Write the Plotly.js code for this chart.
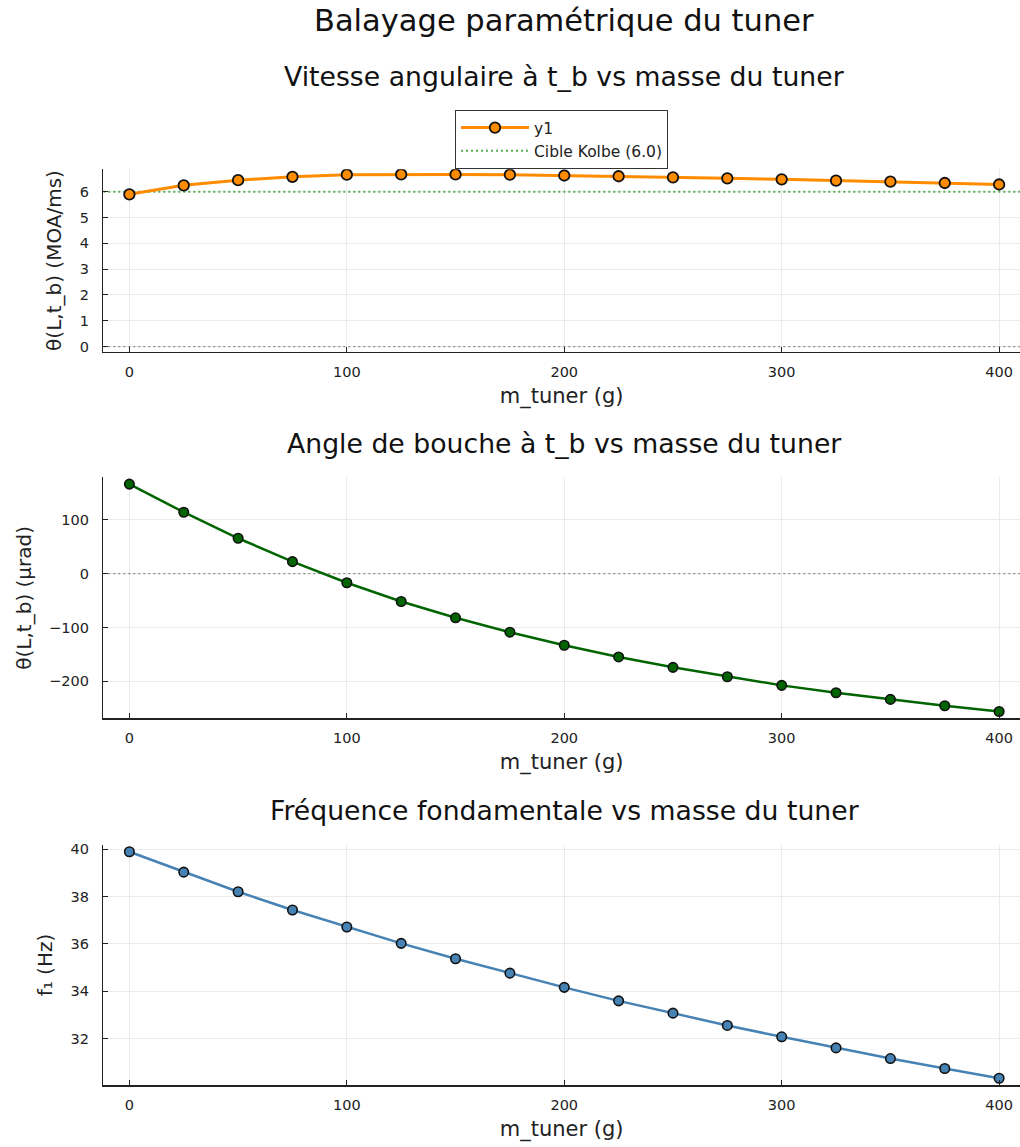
<!DOCTYPE html>
<html>
<head>
<meta charset="utf-8">
<script src="https://cdn.plot.ly/plotly-3.0.1.min.js"></script>
<style>html,body{margin:0;padding:0;background:#fff;}#chart{width:1020px;height:1147px;}</style>
</head>
<body>
<div id="chart"></div>
<script>
// ---- data ----
const masses = [0, 25, 50, 75, 100, 125, 150, 175, 200, 225, 250, 275, 300, 325, 350, 375, 400];
const omegaTb = [5.90, 6.25, 6.45, 6.58, 6.66, 6.67, 6.67, 6.66, 6.63, 6.60, 6.56, 6.52, 6.48, 6.43, 6.39, 6.34, 6.28];
const thetaTb = [166.4, 114.2, 65.8, 22.4, -16.8, -51.6, -82.0, -108.7, -133.0, -154.7, -174.0, -191.4, -207.5, -221.2, -233.6, -245.4, -256.0];
const freqF1 = [39.89, 39.03, 38.20, 37.43, 36.71, 36.02, 35.37, 34.76, 34.16, 33.59, 33.07, 32.55, 32.07, 31.60, 31.15, 30.73, 30.32];
const kolbeTarget = 6.0;
const zeroRef = 0;
const seriesName = "y1";
const targetName = "Cible Kolbe (6.0)";
const mainTitle = "Balayage paramétrique du tuner";
const subTitles = ["Vitesse angulaire à t_b vs masse du tuner", "Angle de bouche à t_b vs masse du tuner", "Fréquence fondamentale vs masse du tuner"];
const xLabel = "m_tuner (g)";
const yLabels = ["θ(L,t_b) (MOA/ms)", "θ(L,t_b) (µrad)", "f₁ (Hz)"];

// ---- helpers ----
function padRange(vals) {
  const lo = Math.min(...vals), hi = Math.max(...vals);
  const p = (hi - lo) * 0.03;
  return [lo - p, hi + p];
}
const FONT = "DejaVu Sans, Liberation Sans, sans-serif";
const xPad = (masses[masses.length - 1] - masses[0]) * 0.03;
const xRange = [masses[0] - xPad, 409.6];

const H = 1147;
const domTop = [1 - 351.7 / H, 1 - 169.3 / H];
const domMid = [1 - 718.3 / H, 1 - 477.3 / H];
const domBot = [1 - 1085 / H, 1 - 845 / H];
const xDom = [103.3 / 1020, 1];

function xAxis(anchor) {
  return {
    domain: xDom, anchor: anchor, range: xRange, tickmode: "linear", tick0: 0, dtick: 100,
    showline: true, linecolor: "#222", linewidth: 1.5, mirror: false,
    ticks: "inside", ticklen: 5, tickwidth: 1, tickcolor: "#222",
    showgrid: true, gridcolor: "#ebebeb", gridwidth: 1, zeroline: false,
    tickfont: {family: FONT, size: 14.5, color: "#222"}, ticklabelstandoff: 6,
    title: {text: xLabel, font: {family: FONT, size: 21, color: "#222"}, standoff: 9}
  };
}
function yAxis(anchor, domain, range, dtick, label) {
  return {
    domain: domain, anchor: anchor, range: range, tickmode: "linear", tick0: 0, dtick: dtick,
    showline: true, linecolor: "#222", linewidth: 1.5, mirror: false,
    ticks: "inside", ticklen: 5, tickwidth: 1, tickcolor: "#222",
    showgrid: true, gridcolor: "#ebebeb", gridwidth: 1, zeroline: false,
    tickfont: {family: FONT, size: 14.5, color: "#222"}, ticklabelstandoff: 10,
    title: {text: label, font: {family: FONT, size: 20, color: "#222"}, standoff: 12}
  };
}

// reference lines span the full axis range (drawn first so data sits on top)
function refLine(xa, ya, yv, color, width, name, show) {
  return {x: xRange, y: [yv, yv], xaxis: xa, yaxis: ya, type: "scatter", mode: "lines",
          name: name || "", showlegend: !!show, legendrank: 2, hoverinfo: "skip",
          line: {color: color, width: width, dash: "2px,3px"}};
}

const traces = [
  refLine("x", "y", zeroRef, "#8a8a8a", 1.2),
  refLine("x", "y", kolbeTarget, "#55b055", 2, targetName, true),
  refLine("x2", "y2", zeroRef, "#8a8a8a", 1.2),
  {x: masses, y: omegaTb, xaxis: "x", yaxis: "y", type: "scatter", mode: "lines+markers", name: seriesName, legendrank: 1,
   line: {color: "#ff8c00", width: 3}, marker: {color: "#ff8c00", size: 10.5, line: {color: "#111", width: 1.8}}},
  {x: masses, y: thetaTb, xaxis: "x2", yaxis: "y2", type: "scatter", mode: "lines+markers", showlegend: false,
   line: {color: "#006400", width: 2.5}, marker: {color: "#006400", size: 9.5, line: {color: "#111", width: 1.6}}},
  {x: masses, y: freqF1, xaxis: "x3", yaxis: "y3", type: "scatter", mode: "lines+markers", showlegend: false,
   line: {color: "#4682b4", width: 2.5}, marker: {color: "#4682b4", size: 9.5, line: {color: "#111", width: 1.6}}}
];

const titleX = 564 / 1020;
const layout = {
  width: 1020, height: H,
  margin: {l: 0, r: 0, t: 0, b: 0},
  paper_bgcolor: "#fff", plot_bgcolor: "#fff",
  font: {family: FONT, color: "#222"},
  showlegend: true,
  legend: {x: 455 / 1020, y: 1 - 110 / H, xanchor: "left", yanchor: "top", traceorder: "normal",
           bgcolor: "#fff", bordercolor: "#333", borderwidth: 1,
           font: {family: FONT, size: 15.5, color: "#222"}, itemwidth: 68, tracegroupgap: 0},
  xaxis: xAxis("y"), xaxis2: xAxis("y2"), xaxis3: xAxis("y3"),
  yaxis: yAxis("x", domTop, padRange(omegaTb.concat([zeroRef, kolbeTarget])), 1, yLabels[0]),
  yaxis2: yAxis("x2", domMid, padRange(thetaTb.concat([zeroRef])), 100, yLabels[1]),
  yaxis3: yAxis("x3", domBot, padRange(freqF1), 2, yLabels[2]),
  annotations: [
    {text: mainTitle, xref: "paper", yref: "paper", x: titleX, y: 1 - 20 / H, xanchor: "center", yanchor: "middle", showarrow: false, font: {family: FONT, size: 30.5, color: "#111"}},
    {text: subTitles[0], xref: "paper", yref: "paper", x: titleX, y: 1 - 76 / H, xanchor: "center", yanchor: "middle", showarrow: false, font: {family: FONT, size: 26.7, color: "#111"}},
    {text: subTitles[1], xref: "paper", yref: "paper", x: titleX, y: 1 - 443 / H, xanchor: "center", yanchor: "middle", showarrow: false, font: {family: FONT, size: 26.7, color: "#111"}},
    {text: subTitles[2], xref: "paper", yref: "paper", x: titleX, y: 1 - 810 / H, xanchor: "center", yanchor: "middle", showarrow: false, font: {family: FONT, size: 26.7, color: "#111"}}
  ]
};

Plotly.newPlot("chart", traces, layout, {displayModeBar: false, staticPlot: true});
</script>
</body>
</html>
